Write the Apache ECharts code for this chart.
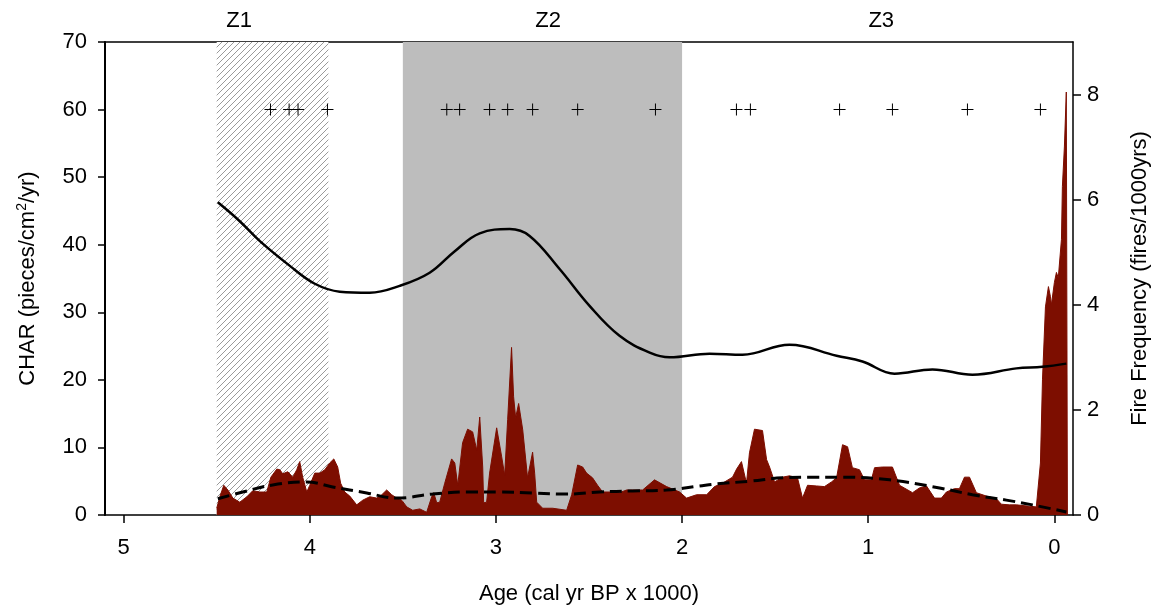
<!DOCTYPE html>
<html>
<head>
<meta charset="utf-8">
<script src="https://cdn.jsdelivr.net/npm/echarts@6/dist/echarts.min.js"></script>
<style>
  html, body { margin: 0; padding: 0; background: #fff; }
  #chart { width: 1156px; height: 607px; }
</style>
</head>
<body>
<div id="chart"></div>
<script>
// Charcoal accumulation (CHAR), ages in cal yr BP x 1000
const charAge = [4.500, 4.483, 4.462, 4.440, 4.413, 4.376, 4.338, 4.306, 4.268, 4.231, 4.209, 4.177, 4.161, 4.145, 4.118,
  4.091, 4.070, 4.054, 4.038, 4.016, 4.000, 3.973, 3.946, 3.919, 3.893, 3.871, 3.850, 3.834, 3.812, 3.785, 3.748, 3.715,
  3.678, 3.640, 3.613, 3.587, 3.560, 3.533, 3.506, 3.479, 3.447, 3.409, 3.372, 3.345, 3.334, 3.318, 3.302, 3.275, 3.238,
  3.221, 3.205, 3.179, 3.152, 3.125, 3.103, 3.087, 3.071, 3.066, 3.050, 3.034, 2.996, 2.969, 2.953, 2.937, 2.916, 2.905,
  2.894, 2.878, 2.856, 2.830, 2.803, 2.792, 2.781, 2.749, 2.695, 2.620, 2.593, 2.561, 2.534, 2.513, 2.481, 2.454, 2.427,
  2.373, 2.336, 2.298, 2.266, 2.212, 2.148, 2.083, 2.013, 1.976, 1.922, 1.868, 1.826, 1.783, 1.729, 1.707, 1.681, 1.654,
  1.638, 1.611, 1.568, 1.546, 1.530, 1.503, 1.460, 1.423, 1.380, 1.353, 1.326, 1.278, 1.235, 1.197, 1.170, 1.138, 1.111,
  1.085, 1.047, 1.020, 0.983, 0.966, 0.923, 0.870, 0.832, 0.762, 0.725, 0.687, 0.644, 0.607, 0.580, 0.537, 0.510, 0.483,
  0.456, 0.419, 0.365, 0.311, 0.285, 0.242, 0.204, 0.134, 0.097, 0.075, 0.064, 0.048, 0.032, 0.021, 0.016, 0.000, -0.011,
  -0.021, -0.038, -0.043, -0.054, -0.064, -0.070];
const charValue = [1.0, 2.7, 4.4, 3.7, 2.5, 1.9, 2.7, 3.6, 3.4, 3.4, 5.6, 6.8, 6.7, 6.1, 6.4,
  5.6, 6.7, 7.9, 5.6, 3.4, 4.4, 6.2, 6.2, 6.7, 7.7, 8.3, 7.1, 4.7, 3.4, 2.8, 1.5, 2.2,
  2.7, 2.5, 3.0, 3.7, 3.0, 2.5, 2.2, 1.2, 0.7, 0.9, 0.4, 2.7, 3.3, 1.8, 1.9, 4.7, 8.3,
  7.7, 4.4, 10.7, 12.7, 12.3, 9.6, 14.5, 7.1, 1.8, 1.9, 6.2, 12.9, 8.6, 5.9, 14.1, 24.8, 17.5,
  14.4, 16.5, 12.6, 5.5, 9.3, 6.2, 1.9, 1.0, 1.0, 0.7, 3.0, 7.4, 7.1, 6.2, 5.5, 4.4, 3.4,
  3.4, 3.3, 3.7, 3.7, 3.7, 5.2, 4.2, 3.4, 2.5, 3.0, 3.0, 4.2, 4.7, 5.6, 6.8, 7.9, 4.7,
  9.2, 12.7, 12.5, 8.2, 7.1, 4.9, 5.6, 5.8, 5.5, 2.5, 4.4, 4.3, 4.2, 4.9, 5.5, 10.4, 10.1,
  7.0, 6.7, 5.2, 5.2, 7.0, 7.1, 7.1, 4.4, 3.3, 4.0, 4.3, 2.5, 2.5, 3.4, 3.9, 3.9, 5.6,
  5.6, 3.3, 2.8, 2.4, 1.6, 1.5, 1.5, 1.3, 1.2, 7.7, 20.0, 30.8, 33.8, 32.3, 31.1, 34.4, 35.9,
  35.1, 40.8, 48.6, 54.6, 62.6, 0];

// Background CHAR (dashed)
const bgAge = [4.494, 4.360, 4.199, 4.016, 3.877, 3.694, 3.533, 3.340, 3.157, 2.980, 2.803, 2.620, 2.443, 2.266,
  2.083, 1.906, 1.815, 1.638, 1.460, 1.278, 1.154, 0.886, 0.617, 0.440, 0.258, 0.118, -0.064];
const bgValue = [2.4, 3.4, 4.45, 4.9, 4.15, 3.26, 2.5, 3.1, 3.4, 3.4, 3.26, 3.1, 3.4, 3.56,
  3.7, 4.3, 4.6, 5.0, 5.5, 5.6, 5.6, 5.2, 4.0, 3.0, 2.2, 1.5, 0.45];

// Fire frequency (fires/1000yrs)
const freqAge = [4.494, 4.376, 4.268, 4.107, 3.973, 3.839, 3.678, 3.517, 3.356, 3.221, 3.087, 2.926, 2.819, 2.658,
  2.497, 2.336, 2.174, 2.067, 1.852, 1.675, 1.423, 1.170, 1.031, 0.859, 0.655, 0.440, 0.204, 0.064, -0.064];
const freqValue = [5.95, 5.59, 5.21, 4.74, 4.40, 4.25, 4.23, 4.36, 4.61, 5.02, 5.36, 5.44, 5.31, 4.68,
  3.98, 3.41, 3.09, 3.00, 3.07, 3.05, 3.24, 3.03, 2.92, 2.69, 2.77, 2.67, 2.79, 2.82, 2.88];

// Fire events (+)
const fireAges = [4.211, 4.111, 4.063, 3.905, 3.264, 3.195, 3.034, 2.937, 2.803, 2.561, 2.143, 1.708, 1.633,
  1.154, 0.870, 0.467, 0.075];
const fireLevel = 60;

// Zones
const zoneNames = ['Z1', 'Z2', 'Z3'];
const zoneLabelAges = [4.38, 2.72, 0.93];
const z1Range = [4.5, 3.9];
const z2Range = [3.5, 2.0];

const ageTicks = [0, 1, 2, 3, 4, 5];
const freqTicks = [0, 2, 4, 6, 8];

function pairs(xs, ys) {
  return xs.map(function (x, i) { return [x, ys[i]]; });
}

function zoneLabel(v) {
  // pick the zone whose label position is closest to v
  var best = 0;
  zoneLabelAges.forEach(function (a, i) {
    if (Math.abs(a - v) < Math.abs(zoneLabelAges[best] - v)) best = i;
  });
  return zoneNames[best];
}

// diagonal hatch for zone 1
function hatchCanvas() {
  var c = document.createElement('canvas');
  c.width = 6; c.height = 6;
  var g = c.getContext('2d');
  g.fillStyle = '#fff';
  g.fillRect(0, 0, 6, 6);
  g.strokeStyle = '#808080';
  g.lineWidth = 0.8;
  g.beginPath();
  g.moveTo(-1, 7); g.lineTo(7, -1);
  g.moveTo(-1, 1); g.lineTo(1, -1);
  g.moveTo(5, 7); g.lineTo(7, 5);
  g.stroke();
  return c;
}

const font = "'Liberation Sans', Arial, sans-serif";
const red = '#7d0e00';
const fs = 22;

var chart = echarts.init(document.getElementById('chart'));

var option = {
  animation: false,
  backgroundColor: '#fff',
  textStyle: { fontFamily: font },
  grid: { left: 105, right: 83, top: 42, bottom: 92, outerBoundsMode: 'none' },
  xAxis: [
    {
      type: 'value', inverse: true, min: -0.1, max: 5.1, position: 'bottom',
      name: 'Age (cal yr BP x 1000)', nameLocation: 'middle', nameGap: 68,
      nameTextStyle: { fontSize: fs, color: '#000', fontFamily: font },
      axisLine: { onZero: false, lineStyle: { color: '#000', width: 1.5 } },
      axisTick: { customValues: ageTicks, length: 8, lineStyle: { color: '#000', width: 1.5 } },
      axisLabel: { customValues: ageTicks, margin: 22, fontSize: fs, color: '#000', fontFamily: font },
      splitLine: { show: false }
    },
    {
      type: 'value', inverse: true, min: -0.1, max: 5.1, position: 'top',
      axisLine: { show: true, onZero: false, lineStyle: { color: '#000', width: 1.5 } },
      axisTick: { show: false },
      axisLabel: {
        show: true, customValues: zoneLabelAges, margin: 10, fontSize: fs, color: '#000', fontFamily: font,
        formatter: zoneLabel
      },
      splitLine: { show: false }
    }
  ],
  yAxis: [
    {
      type: 'value', min: 0, max: 70, interval: 10, position: 'left',
      name: '{t|CHAR (pieces/cm}{s|2}{t|/yr)}', nameLocation: 'middle', nameGap: 64, nameRotate: 90,
      nameTextStyle: {
        rich: {
          t: { fontSize: fs, color: '#000', fontFamily: font, lineHeight: 26 },
          s: { fontSize: 14, color: '#000', fontFamily: font, verticalAlign: 'top', lineHeight: 14 }
        }
      },
      axisLine: { show: true, onZero: false, lineStyle: { color: '#000', width: 2 } },
      axisTick: { show: true, length: 7, lineStyle: { color: '#000', width: 1.5 } },
      axisLabel: { margin: 18, fontSize: fs, color: '#000', fontFamily: font },
      splitLine: { show: false }
    },
    {
      type: 'value', min: 0, max: 9, position: 'right',
      name: 'Fire Frequency (fires/1000yrs)', nameLocation: 'middle', nameGap: 56, nameRotate: 90,
      nameTextStyle: { fontSize: fs, color: '#000', fontFamily: font },
      axisLine: { show: true, onZero: false, lineStyle: { color: '#000', width: 1.5 } },
      axisTick: { show: true, customValues: freqTicks, length: 8, lineStyle: { color: '#000', width: 1.5 } },
      axisLabel: { customValues: freqTicks, margin: 14, fontSize: fs, color: '#000', fontFamily: font },
      splitLine: { show: false }
    }
  ],
  series: [
    {
      name: 'zones', type: 'line', data: [], z: 1, silent: true,
      markArea: {
        silent: true,
        label: { show: false },
        data: [
          [{ xAxis: z1Range[0], itemStyle: { color: { image: hatchCanvas(), repeat: 'repeat' }, opacity: 1 } },
           { xAxis: z1Range[1] }],
          [{ xAxis: z2Range[0], itemStyle: { color: '#bdbdbd', opacity: 1 } },
           { xAxis: z2Range[1] }]
        ]
      }
    },
    {
      name: 'CHAR', type: 'line', z: 2,
      data: pairs(charAge, charValue),
      showSymbol: false, symbol: 'none',
      lineStyle: { color: red, width: 1 },
      areaStyle: { color: red, opacity: 1 }
    },
    {
      name: 'background', type: 'line', z: 3, smooth: 0.4,
      data: pairs(bgAge, bgValue),
      showSymbol: false, symbol: 'none',
      lineStyle: { color: '#000', width: 3, type: [12, 6] }
    },
    {
      name: 'fire frequency', type: 'line', z: 4, smooth: 0.4, yAxisIndex: 1,
      data: pairs(freqAge, freqValue),
      showSymbol: false, symbol: 'none',
      lineStyle: { color: '#000', width: 2.5 }
    },
    {
      name: 'fires', type: 'scatter', z: 5,
      data: fireAges.map(function (a) { return [a, fireLevel]; }),
      symbol: 'path://M0,5.5H12V6.5H0Z M5.5,0H6.5V12H5.5Z',
      symbolSize: 12,
      itemStyle: { color: '#000', opacity: 1 }
    }
  ]
};

chart.setOption(option);

window.addEventListener('resize', function () {
  chart.resize();
});
</script>
</body>
</html>
